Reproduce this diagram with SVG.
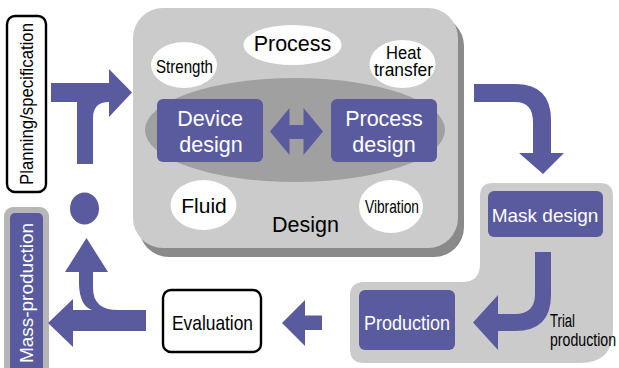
<svg xmlns="http://www.w3.org/2000/svg" width="619" height="368" viewBox="0 0 619 368">
<style>
text{font-family:"Liberation Sans",Arial,sans-serif;fill:#000}
.w{fill:#fff}
.p{fill:#5a5a9f}
.lg{fill:#cbcbcb}
.oval{fill:#fff}
.box{fill:#fff;stroke:#000;stroke-width:2.4}
.m{text-anchor:middle}
</style>
<rect width="619" height="368" fill="#fff"/>
<g id="design">
<rect x="139" y="16" width="325" height="241" rx="30" fill="#8a8a8a"/>
<rect x="133" y="8" width="325" height="240" rx="30" class="lg"/>
<ellipse cx="295" cy="130" rx="150" ry="52" fill="#a0a0a0"/>
<text x="305.5" y="232" font-size="21.5" class="m">Design</text>
</g>
<g id="process-oval"><ellipse cx="292.5" cy="45" rx="49" ry="20" class="oval"/><text x="292.5" y="50.5" font-size="21.5" class="m">Process</text></g>
<g id="strength-oval"><ellipse cx="184" cy="65" rx="33" ry="23" class="oval"/><text x="184.5" y="73" font-size="19" class="m" textLength="57" lengthAdjust="spacingAndGlyphs">Strength</text></g>
<g id="heat-oval"><ellipse cx="402.5" cy="64" rx="33" ry="24" class="oval"/><text x="403.5" y="59" font-size="17.5" class="m" textLength="35" lengthAdjust="spacingAndGlyphs">Heat</text><text x="403.5" y="76" font-size="17.5" class="m" textLength="59" lengthAdjust="spacingAndGlyphs">transfer</text></g>
<g id="fluid-oval"><ellipse cx="203.5" cy="205" rx="33" ry="25" class="oval"/><text x="204" y="213" font-size="21" class="m">Fluid</text></g>
<g id="vibration-oval"><ellipse cx="391" cy="206.5" rx="32" ry="26.5" class="oval"/><text x="392" y="213" font-size="19" class="m" textLength="54" lengthAdjust="spacingAndGlyphs">Vibration</text></g>
<g id="device-design"><rect x="157" y="99" width="106" height="63" rx="6" class="p"/><text x="210" y="126" font-size="21.5" class="m w">Device</text><text x="211" y="152" font-size="21.5" class="m w">design</text></g>
<g id="process-design"><rect x="331" y="99" width="106" height="63" rx="6" class="p"/><text x="384" y="126" font-size="21.5" class="m w">Process</text><text x="384" y="152" font-size="21.5" class="m w">design</text></g>
<g id="planning"><rect x="7" y="16" width="39" height="176" rx="8" class="box"/><text transform="translate(33,104) rotate(-90)" font-size="19" class="m" textLength="162" lengthAdjust="spacingAndGlyphs">Planning/specification</text></g>
<g id="mass-production"><rect x="4" y="207" width="45" height="175" rx="9" fill="#b6b6b6"/><rect x="10" y="213" width="33" height="165" rx="5" class="p"/><text transform="translate(33,293) rotate(-90)" font-size="19" class="m w" textLength="140" lengthAdjust="spacingAndGlyphs">Mass-production</text></g>
<g id="trial-region"><path class="lg" d="M493,183 H600 Q613,183 613,196 V330 Q613,363 580,363 H364 Q350,363 350,349 V296 Q350,282 364,282 H462 Q480,282 480,264 V196 Q480,183 493,183 Z"/>
<text x="550" y="327" font-size="18" textLength="25" lengthAdjust="spacingAndGlyphs">Trial</text><text x="550" y="346" font-size="18" textLength="66" lengthAdjust="spacingAndGlyphs">production</text></g>
<g id="mask-design"><rect x="488" y="191" width="115" height="46" rx="6" class="p"/><text x="545" y="222" font-size="19" class="m w">Mask design</text></g>
<g id="production"><rect x="359" y="290" width="96" height="60" rx="6" class="p"/><text x="407" y="330" font-size="21" class="m w" textLength="86" lengthAdjust="spacingAndGlyphs">Production</text></g>
<g id="evaluation"><rect x="163" y="290" width="98" height="62" rx="8" class="box"/><text x="212.5" y="330" font-size="21" class="m" textLength="81" lengthAdjust="spacingAndGlyphs">Evaluation</text></g>
<g id="dot"><ellipse cx="84.5" cy="208.5" rx="14.5" ry="16" class="p"/></g>
<g id="connectors" class="p">
<path d="M51,83 H109 V69 L132,92.5 L109,117 V102 Q93,102 93,118 V164 H77 V102 H51 Z"/>
<path d="M146,310 H118 Q93,310 93,288 V272 H108 L86.5,238 L65,272 H79 V285 Q80,306 92,310 H73 V299 L48,323 L73,347 V331 H146 Z"/>
<path d="M322,315.5 V330 H305 V346 L282,323 L305,300 V315.5 Z"/>
<path d="M474,84 H515 Q551,84 551,120 V153 H564 L543,174 L519,153 H533 V122 Q533,102 515,102 H474 Z"/>
<path d="M535,252 H551 V295 Q551,331 515,331 H498 V350 L473,322.5 L498,295 V314 H515 Q535,314 535,294 Z"/>
<path d="M270,131.5 L289.5,108 V125 H303.5 V108 L323,131.5 L303.5,155 V139 H289.5 V155 Z"/>
</g>
</svg>
